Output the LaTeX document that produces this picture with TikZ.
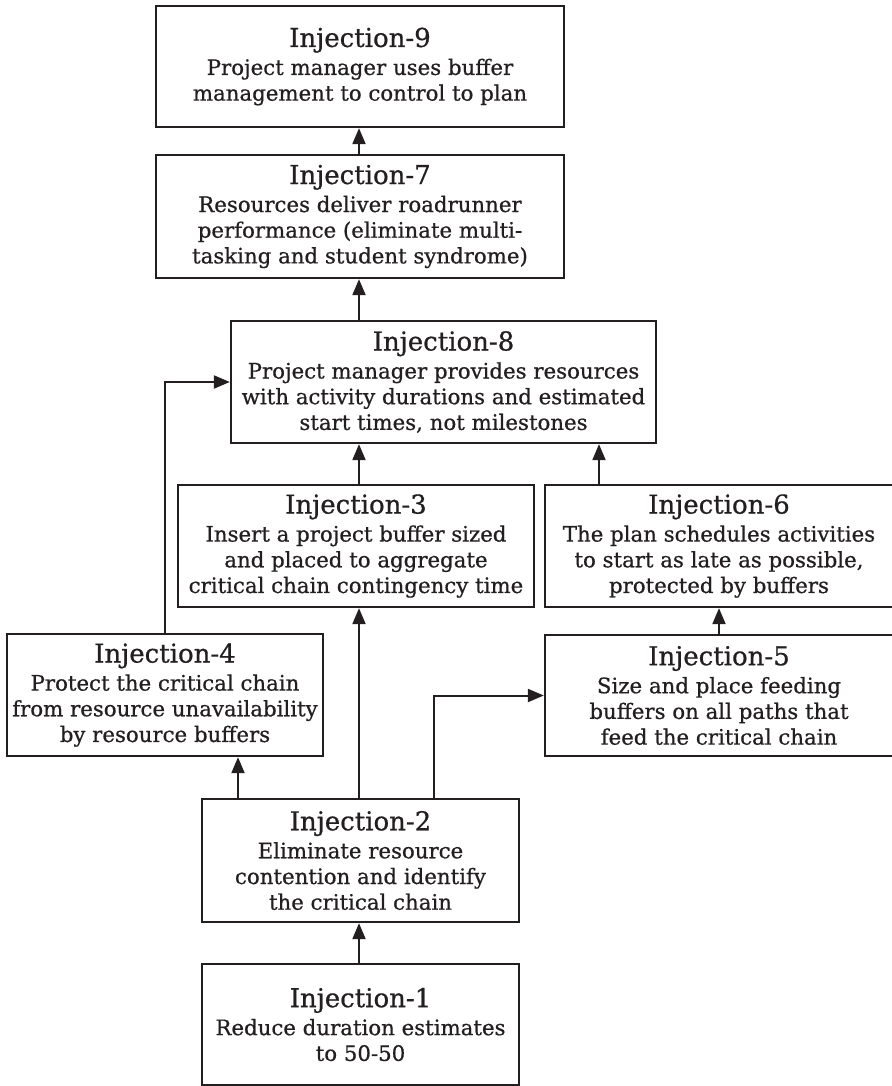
\documentclass[tikz,border=0pt]{standalone}
\usepackage{fontspec}
\setmainfont{DejaVu Serif}[BoldFont={DejaVu Serif},BoldFeatures={FakeBold=0.7}]
\usetikzlibrary{arrows.meta}
\definecolor{ink}{HTML}{231F20}
\newcommand{\bodyfont}{\bfseries\fontsize{21.3}{25.7}\selectfont}
\newcommand{\ttl}[1]{{\fontsize{26}{30}\selectfont #1}\\[2.3pt]}
\tikzset{
  box/.style={draw=ink, line width=2.3pt, inner sep=0pt, align=center,
              text=ink, font=\bodyfont},
  arr/.style={draw=ink, line width=2pt, line join=miter,
              -{Triangle[length=16pt,width=13pt]}},
}
\begin{document}
\begin{tikzpicture}[x=1pt,y=-1pt]
\useasboundingbox (0,0) rectangle (891,1086);

\node[box, minimum width=408pt, minimum height=121pt] (b9) at (360,66.5)
  {\ttl{Injection-9}Project manager uses buffer\\management to control to plan};
\node[box, minimum width=408pt, minimum height=123pt] (b7) at (360,216.5)
  {\ttl{Injection-7}Resources deliver roadrunner\\performance (eliminate multi-\\tasking and student syndrome)};
\node[box, minimum width=425pt, minimum height=122pt] (b8) at (443.5,382)
  {\ttl{Injection-8}Project manager provides resources\\with activity durations and estimated\\start times, not milestones};
\node[box, minimum width=356pt, minimum height=122pt] (b3) at (356,546)
  {\ttl{Injection-3}Insert a project buffer sized\\and placed to aggregate\\critical chain contingency time};
\node[box, minimum width=348pt, minimum height=122pt] (b6) at (719,546)
  {\ttl{Injection-6}The plan schedules activities\\to start as late as possible,\\protected by buffers};
\node[box, minimum width=316pt, minimum height=122pt] (b4) at (165,695)
  {\ttl{Injection-4}Protect the critical chain\\from resource unavailability\\by resource buffers};
\node[box, minimum width=348pt, minimum height=121pt] (b5) at (719,695.5)
  {\ttl{Injection-5}Size and place feeding\\buffers on all paths that\\feed the critical chain};
\node[box, minimum width=317pt, minimum height=123pt] (b2) at (360.5,860.5)
  {\ttl{Injection-2}Eliminate resource\\contention and identify\\the critical chain};
\node[box, minimum width=317pt, minimum height=121pt] (b1) at (360.5,1024.5)
  {\ttl{Injection-1}Reduce duration estimates\\to 50-50};

% columns used by the vertical connectors
\coordinate (mid) at (359,0);
\coordinate (r8) at (599,0);
\coordinate (l4) at (238,0);
\coordinate (r2) at (434,0);

\draw[arr] (b7.north -| mid) -- (b9.south -| mid);
\draw[arr] (b8.north -| mid) -- (b7.south -| mid);
\draw[arr] (b3.north -| mid) -- (b8.south -| mid);
\draw[arr] (b6.north -| r8) -- (b8.south -| r8);
\draw[arr] (b5.north) -- (b6.south);
\draw[arr] (b4.north) |- (b8.west);
\draw[arr] (b2.north -| l4) -- (b4.south -| l4);
\draw[arr] (b2.north -| mid) -- (b3.south -| mid);
\draw[arr] (b2.north -| r2) |- (b5.west);
\draw[arr] (b1.north -| mid) -- (b2.south -| mid);
\end{tikzpicture}
\end{document}
